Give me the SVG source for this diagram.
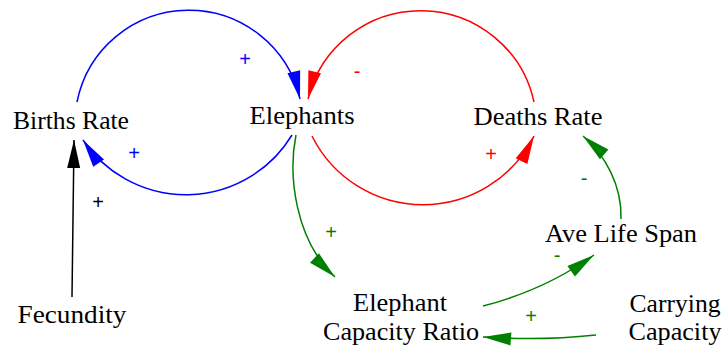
<svg xmlns="http://www.w3.org/2000/svg" width="724" height="349" viewBox="0 0 724 349">
<style>
.lbl{font-family:"Liberation Serif","Times New Roman",serif;font-size:25px;fill:#000;text-anchor:middle}
.sg{font-family:"Liberation Sans",Arial,sans-serif;font-size:20px;text-anchor:middle}
.ln{fill:none;stroke-width:1.5}
</style>
<defs>
<marker id="ab" markerUnits="userSpaceOnUse" markerWidth="40" markerHeight="40" refX="0" refY="0" orient="auto" overflow="visible"><path d="M0,0 L-28,-6.5 L-28,6.5 Z" fill="#0000FF"/></marker>
<marker id="ar" markerUnits="userSpaceOnUse" markerWidth="40" markerHeight="40" refX="0" refY="0" orient="auto" overflow="visible"><path d="M0,0 L-28,-6.5 L-28,6.5 Z" fill="#FF0000"/></marker>
<marker id="ag" markerUnits="userSpaceOnUse" markerWidth="40" markerHeight="40" refX="0" refY="0" orient="auto" overflow="visible"><path d="M0,0 L-28,-6.5 L-28,6.5 Z" fill="#008000"/></marker>
<marker id="ak" markerUnits="userSpaceOnUse" markerWidth="40" markerHeight="40" refX="0" refY="0" orient="auto" overflow="visible"><path d="M0,0 L-28,-6.5 L-28,6.5 Z" fill="#000"/></marker>
</defs>
<rect width="724" height="349" fill="#fff"/>
<g id="connectors">
<path class="ln" stroke="#0000FF" d="M77,102 A114,114 0 0 1 300,99" marker-end="url(#ab)"/>
<path class="ln" stroke="#0000FF" d="M292,135 A124,124 0 0 1 83,140" marker-end="url(#ab)"/>
<path class="ln" stroke="#FF0000" d="M534,102 A116,116 0 0 0 308,99" marker-end="url(#ar)"/>
<path class="ln" stroke="#FF0000" d="M312,136 A124,124 0 0 0 534,136" marker-end="url(#ar)"/>
<path class="ln" stroke="#000" d="M72,297 L74,140" marker-end="url(#ak)"/>
<path class="ln" stroke="#008000" d="M296,135 C288,175 295,240 335,277" marker-end="url(#ag)"/>
<path class="ln" stroke="#008000" d="M483,306 Q545,290 594,255" marker-end="url(#ag)"/>
<path class="ln" stroke="#008000" d="M596,335 Q540,341 483,337" marker-end="url(#ag)"/>
<path class="ln" stroke="#008000" d="M621,219 C622,185 605,155 583,136" marker-end="url(#ag)"/>
<text class="sg" fill="#0000FF" x="245" y="66">+</text>
<text class="sg" fill="#0000FF" x="134" y="160">+</text>
<text class="sg" fill="#FF0000" x="357" y="78">-</text>
<text class="sg" fill="#FF0000" x="491" y="161">+</text>
<text class="sg" fill="#008000" x="584" y="185">-</text>
<text class="sg" fill="#000" x="98" y="209">+</text>
<text class="sg" fill="#008000" x="331" y="239">+</text>
<text class="sg" fill="#008000" x="557" y="262" font-size="17">-</text>
<text class="sg" fill="#008000" x="531" y="323">+</text>
</g>
<g id="births-rate"><text class="lbl" x="71" y="129" textLength="116" lengthAdjust="spacingAndGlyphs">Births Rate</text></g>
<g id="elephants"><text class="lbl" x="302" y="124" textLength="105" lengthAdjust="spacingAndGlyphs">Elephants</text></g>
<g id="deaths-rate"><text class="lbl" x="538" y="125" textLength="129" lengthAdjust="spacingAndGlyphs">Deaths Rate</text></g>
<g id="ave-life-span"><text class="lbl" x="621" y="242" textLength="152" lengthAdjust="spacingAndGlyphs">Ave Life Span</text></g>
<g id="elephant-capacity-ratio"><text class="lbl" x="400" y="311" textLength="94" lengthAdjust="spacingAndGlyphs">Elephant</text><text class="lbl" x="401" y="340" textLength="156" lengthAdjust="spacingAndGlyphs">Capacity Ratio</text></g>
<g id="carrying-capacity"><text class="lbl" x="675" y="312" textLength="91" lengthAdjust="spacingAndGlyphs">Carrying</text><text class="lbl" x="675" y="340" textLength="93" lengthAdjust="spacingAndGlyphs">Capacity</text></g>
<g id="fecundity"><text class="lbl" x="72" y="323" textLength="109" lengthAdjust="spacingAndGlyphs">Fecundity</text></g>
</svg>
